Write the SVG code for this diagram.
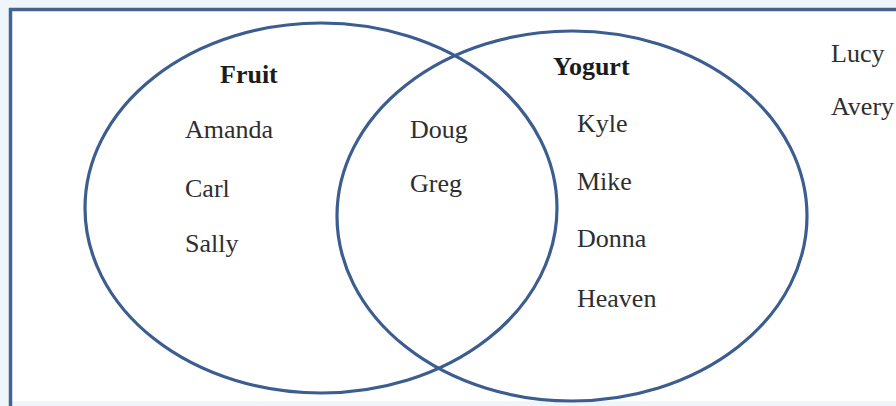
<svg xmlns="http://www.w3.org/2000/svg" width="896" height="406" viewBox="0 0 896 406">
<style>
.set{fill:none;stroke:#3b5d8f;stroke-width:3.2}
.frame{fill:none;stroke:#44648f;stroke-width:3.5}
.t{font-family:"Liberation Serif","Times New Roman",serif;font-size:26px;fill:#2e2e2e}
.h{font-family:"Liberation Serif","Times New Roman",serif;font-size:26px;font-weight:bold;fill:#1c1c1c}
</style>
<rect x="0" y="0" width="896" height="406" fill="#eef6fb"/>
<rect x="10" y="9.5" width="890" height="391.5" fill="#ffffff"/>
<g id="frame">
<path class="frame" d="M10.5,406 V9.5 H896"/>
</g>
<g id="fruit">
<ellipse class="set" cx="321" cy="208" rx="236" ry="185"/>
<text class="h" x="220" y="83">Fruit</text>
<text class="t" x="185" y="138">Amanda</text>
<text class="t" x="185" y="197">Carl</text>
<text class="t" x="185" y="252">Sally</text>
</g>
<g id="yogurt">
<ellipse class="set" cx="572" cy="216" rx="235" ry="185"/>
<text class="h" x="553" y="75">Yogurt</text>
<text class="t" x="577" y="132">Kyle</text>
<text class="t" x="577" y="190">Mike</text>
<text class="t" x="577" y="247">Donna</text>
<text class="t" x="577" y="307">Heaven</text>
</g>
<g id="both">
<text class="t" x="410" y="138">Doug</text>
<text class="t" x="410" y="192">Greg</text>
</g>
<g id="neither">
<text class="t" x="831" y="62">Lucy</text>
<text class="t" x="831" y="115">Avery</text>
</g>
<g id="connectors"></g>
</svg>
